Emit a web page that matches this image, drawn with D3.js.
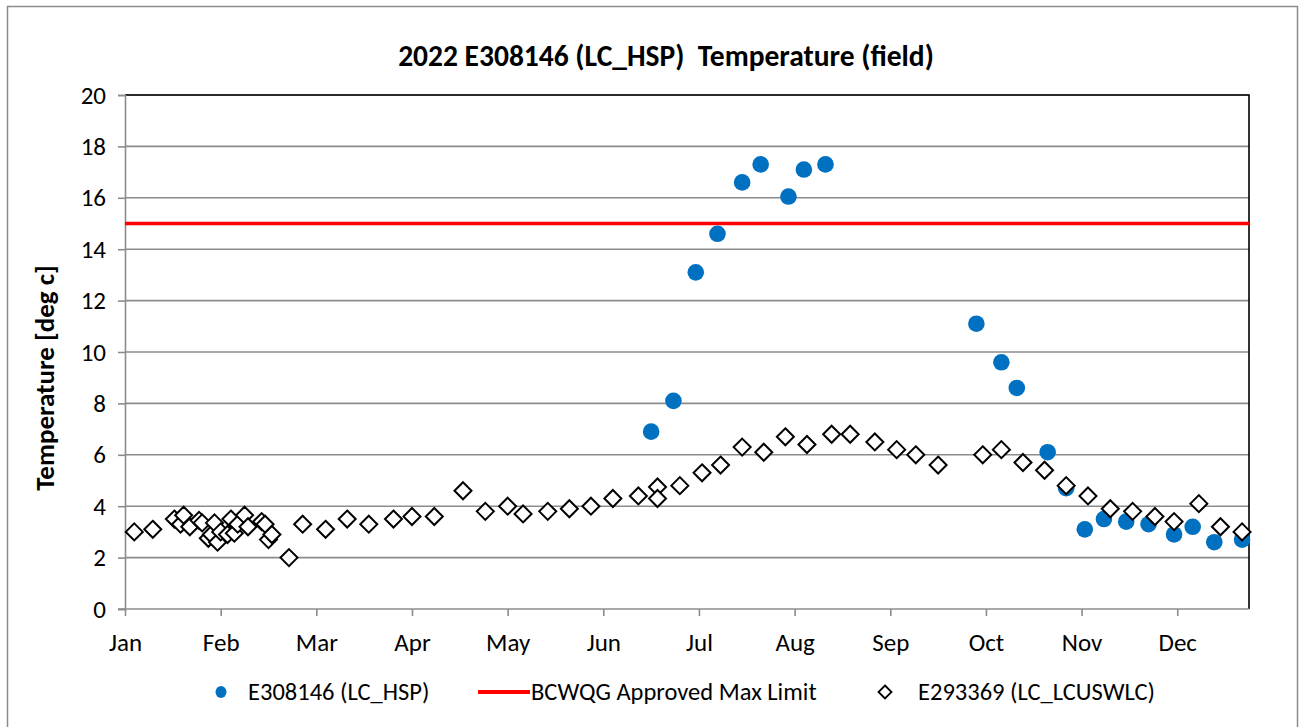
<!DOCTYPE html>
<html>
<head>
<meta charset="utf-8">
<script src="https://cdn.jsdelivr.net/npm/d3@7"></script>
<style>
  body { margin: 0; background: #fff; }
  svg { display: block; font-family: Carlito, Calibri, Lato, sans-serif; }
</style>
</head>
<body>
<div id="d1"></div>
<script>
// month tick labels
const monthLabels = ["Jan", "Feb", "Mar", "Apr", "May", "Jun", "Jul", "Aug", "Sep", "Oct", "Nov", "Dec"];
const yTickValues = [0, 2, 4, 6, 8, 10, 12, 14, 16, 18, 20];

// E308146 (LC_HSP)
const hspDates = ["2022-06-16", "2022-06-23", "2022-06-30", "2022-07-07", "2022-07-15", "2022-07-21",
  "2022-07-30", "2022-08-04", "2022-08-11", "2022-09-28", "2022-10-06", "2022-10-11", "2022-10-21",
  "2022-10-27", "2022-11-02", "2022-11-08", "2022-11-15", "2022-11-22", "2022-11-30", "2022-12-06",
  "2022-12-13", "2022-12-22"];
const hspTemps = [6.9, 8.1, 13.1, 14.6, 16.6, 17.3, 16.05, 17.1, 17.3, 11.1, 9.6, 8.6, 6.1,
  4.7, 3.1, 3.5, 3.4, 3.3, 2.9, 3.2, 2.6, 2.7];

// E293369 (LC_LCUSWLC)
const lcDates = ["2022-01-04", "2022-01-10", "2022-01-17", "2022-01-19", "2022-01-20", "2022-01-22",
  "2022-01-25", "2022-01-26", "2022-01-28", "2022-01-29", "2022-01-30", "2022-01-31", "2022-02-01",
  "2022-02-03", "2022-02-04", "2022-02-05", "2022-02-06", "2022-02-08", "2022-02-09", "2022-02-13",
  "2022-02-14", "2022-02-15", "2022-02-16", "2022-02-21", "2022-02-25", "2022-03-04", "2022-03-11",
  "2022-03-18", "2022-03-26", "2022-04-01", "2022-04-08", "2022-04-17", "2022-04-24", "2022-05-01",
  "2022-05-06", "2022-05-14", "2022-05-21", "2022-05-28", "2022-06-04", "2022-06-12", "2022-06-18",
  "2022-06-18", "2022-06-25", "2022-07-02", "2022-07-08", "2022-07-15", "2022-07-22", "2022-07-29",
  "2022-08-05", "2022-08-13", "2022-08-19", "2022-08-27", "2022-09-03", "2022-09-09", "2022-09-16",
  "2022-09-30", "2022-10-06", "2022-10-13", "2022-10-20", "2022-10-27", "2022-11-03", "2022-11-10",
  "2022-11-17", "2022-11-24", "2022-11-30", "2022-12-08", "2022-12-15", "2022-12-22"];
const lcTemps = [3.0, 3.1, 3.5, 3.3, 3.65, 3.2, 3.45, 3.35, 2.75, 2.9, 3.35, 2.6, 3.0,
  2.9, 3.5, 2.95, 3.3, 3.65, 3.2, 3.4, 3.3, 2.7, 2.9, 2.0, 3.3, 3.1, 3.5,
  3.3, 3.5, 3.6, 3.6, 4.6, 3.8, 4.0, 3.7, 3.8, 3.9, 4.0, 4.3, 4.4, 4.75,
  4.3, 4.8, 5.3, 5.6, 6.3, 6.1, 6.7, 6.4, 6.8, 6.8, 6.5, 6.2, 6.0, 5.6,
  6.0, 6.2, 5.7, 5.4, 4.8, 4.4, 3.9, 3.8, 3.6, 3.4, 4.1, 3.2, 3.0];

// BCWQG approved max limit
const limitValue = 15;

const width = 1302, height = 727;
const margin = { top: 95, right: 53, bottom: 118, left: 125 };
const font = "Carlito, Calibri, Lato, sans-serif";

// axis is spaced by month, position inside month by day
function monthPos(s) {
  const d = new Date(s + "T00:00:00");
  const m = d.getMonth();
  const dim = new Date(d.getFullYear(), m + 1, 0).getDate();
  return m + (d.getDate() - 1) / dim;
}

const hsp = hspDates.map((d, i) => ({ x: monthPos(d), y: hspTemps[i] }));
const lc = lcDates.map((d, i) => ({ x: monthPos(d), y: lcTemps[i] }));

const x = d3.scaleLinear()
  .domain([0, 11.75])
  .range([margin.left, width - margin.right]);

const y = d3.scaleLinear()
  .domain([0, 20])
  .range([height - margin.bottom, margin.top]);

const svg = d3.select("#d1")
  .append("svg")
  .attr("width", width)
  .attr("height", height)
  .attr("viewBox", [0, 0, width, height]);

// outer chart border
svg.append("rect")
  .attr("x", 7.5).attr("y", 6.5)
  .attr("width", 1290).attr("height", 740)
  .attr("fill", "white")
  .attr("stroke", "#8c8c8c")
  .attr("stroke-width", 1.5);

// title
svg.append("text")
  .attr("x", 666)
  .attr("y", 66)
  .attr("text-anchor", "middle")
  .attr("font-family", font)
  .attr("font-weight", "bold")
  .attr("font-size", 29.5)
  .attr("fill", "#000")
  .attr("xml:space", "preserve")
  .text("2022 E308146 (LC_HSP)  Temperature (field)");

// gridlines
svg.append("g")
  .selectAll("line")
  .data(yTickValues.filter(v => v > 0))
  .join("line")
  .attr("x1", x.range()[0])
  .attr("x2", x.range()[1])
  .attr("y1", d => y(d))
  .attr("y2", d => y(d))
  .attr("stroke", "#8c8c8c")
  .attr("stroke-width", 1.6);

// plot border top / right
svg.append("path")
  .attr("d", `M${x.range()[0]},${y(20)}H${x.range()[1]}V${y(0)}`)
  .attr("fill", "none")
  .attr("stroke", "#000")
  .attr("stroke-width", 1.6);

// y axis
const yAxis = svg.append("g")
  .attr("transform", `translate(${margin.left},0)`)
  .call(d3.axisLeft(y).tickValues(yTickValues).tickSize(7).tickPadding(12).tickFormat(d3.format("d")));
yAxis.select(".domain").attr("stroke", "#8c8c8c").attr("stroke-width", 1.6);
yAxis.selectAll(".tick line").attr("stroke", "#8c8c8c").attr("stroke-width", 1.6);
yAxis.selectAll(".tick text")
  .attr("font-family", font).attr("font-size", 25).attr("fill", "#000");

// x axis
const xAxis = svg.append("g")
  .attr("transform", `translate(0,${y(0)})`)
  .call(d3.axisBottom(x).tickValues(d3.range(monthLabels.length))
    .tickFormat(i => monthLabels[i]).tickSize(7));
xAxis.select(".domain").attr("stroke", "#8c8c8c").attr("stroke-width", 1.6)
  .attr("d", `M${margin.left - 7},0H${x.range()[1]}`);
xAxis.selectAll(".tick line").attr("stroke", "#8c8c8c").attr("stroke-width", 1.6);
xAxis.selectAll(".tick text")
  .attr("y", 42).attr("dy", 0)
  .attr("font-family", font).attr("font-size", 25).attr("fill", "#000");

// y axis title
svg.append("text")
  .attr("transform", `translate(54,378) rotate(-90)`)
  .attr("text-anchor", "middle")
  .attr("font-family", font)
  .attr("font-weight", "bold")
  .attr("font-size", 27)
  .attr("fill", "#000")
  .text("Temperature [deg c]");

// limit line
svg.append("line")
  .attr("x1", x.range()[0])
  .attr("x2", x.range()[1])
  .attr("y1", y(limitValue))
  .attr("y2", y(limitValue))
  .attr("stroke", "#ff0000")
  .attr("stroke-width", 3.5);

// E308146 points
svg.append("g")
  .attr("fill", "#0070c0")
  .selectAll("circle")
  .data(hsp)
  .join("circle")
  .attr("cx", d => x(d.x))
  .attr("cy", d => y(d.y))
  .attr("r", 8.3);

// E293369 diamonds
const diamond = r => `M0,${-r}L${r},0L0,${r}L${-r},0Z`;
svg.append("g")
  .attr("fill", "white")
  .attr("stroke", "#000")
  .attr("stroke-width", 2)
  .selectAll("path")
  .data(lc)
  .join("path")
  .attr("transform", d => `translate(${x(d.x)},${y(d.y)})`)
  .attr("d", diamond(8.5));

// legend
const legend = svg.append("g")
  .attr("font-family", font)
  .attr("font-size", 24.5)
  .attr("fill", "#000");

legend.append("ellipse")
  .attr("cx", 221).attr("cy", 692)
  .attr("rx", 5.5).attr("ry", 6)
  .attr("fill", "#0070c0");
legend.append("text").attr("x", 248).attr("y", 700).text("E308146 (LC_HSP)");

legend.append("line")
  .attr("x1", 478).attr("x2", 530)
  .attr("y1", 692).attr("y2", 692)
  .attr("stroke", "#ff0000").attr("stroke-width", 4);
legend.append("text").attr("x", 531).attr("y", 700).text("BCWQG Approved Max Limit");

legend.append("path")
  .attr("transform", "translate(885,692)")
  .attr("d", diamond(6.5))
  .attr("fill", "white").attr("stroke", "#000").attr("stroke-width", 1.8);
legend.append("text").attr("x", 918).attr("y", 700).text("E293369 (LC_LCUSWLC)");
</script>
</body>
</html>
